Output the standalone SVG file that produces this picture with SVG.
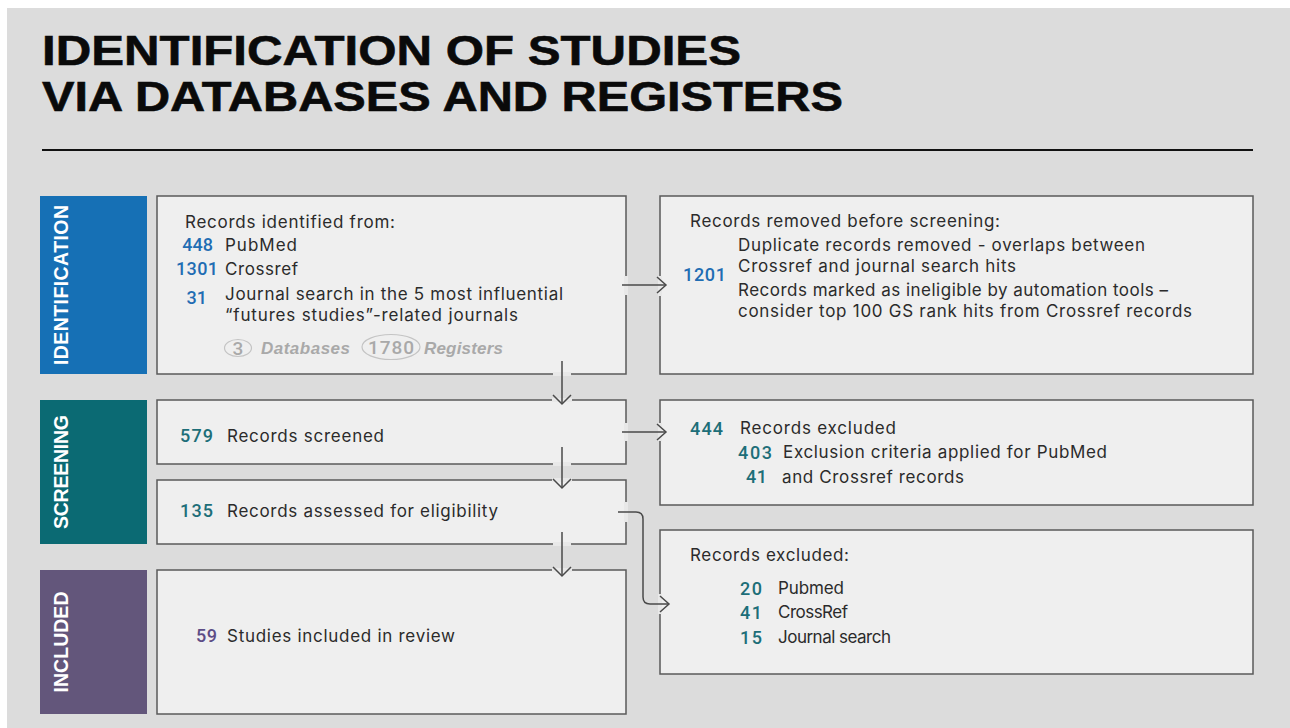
<svg xmlns="http://www.w3.org/2000/svg" width="1290" height="728" viewBox="0 0 1290 728">
  <style>
    .title { font-family: "Liberation Sans", Arial, sans-serif; font-weight: bold; font-size: 43px; fill: #0a0a0a; stroke: #0a0a0a; stroke-width: 0.6px; }
    .phase { font-family: "Liberation Sans", Arial, sans-serif; font-weight: bold; font-size: 19.5px; fill: #ffffff; text-anchor: middle; }
    .box { fill: #efefef; stroke: #5a5a5a; stroke-width: 1.5; }
    .t { font-family: Inter, "Liberation Sans", sans-serif; font-size: 17px; fill: #2b2b2b; }
    .n { font-family: Roboto, "Liberation Sans", sans-serif; font-weight: 500; font-size: 18px; }
    .nb { fill: #1f6db3; }
    .ng { fill: #1d6e78; }
    .np { fill: #5d4d86; }
    .muted { font-family: "Liberation Sans", Arial, sans-serif; font-style: italic; font-weight: bold; font-size: 17px; fill: #a9a9a9; }
    .mutedn { font-family: Roboto, "Liberation Sans", sans-serif; font-weight: 500; font-size: 19px; fill: #a9a9a9; }
    .pill { fill: none; stroke: #c4c4c4; stroke-width: 1.2; }
    .conn { fill: none; stroke: #4a4a4a; stroke-width: 1.5; }
    .gap { fill: #e8e8e8; stroke: none; }
  </style>

  <rect x="0" y="0" width="1290" height="728" fill="#ffffff"/>
  <rect x="7" y="8" width="1283" height="720" fill="#dcdcdc"/>

  <g id="title">
    <text class="title" x="42" y="65" textLength="699" lengthAdjust="spacingAndGlyphs">IDENTIFICATION OF STUDIES</text>
    <text class="title" x="42" y="111" textLength="801" lengthAdjust="spacingAndGlyphs">VIA DATABASES AND REGISTERS</text>
    <line x1="42" y1="150" x2="1253" y2="150" stroke="#111111" stroke-width="2"/>
  </g>

  <g id="phase-identification">
    <rect x="40" y="196" width="107" height="178" fill="#1670b5"/>
    <text class="phase" transform="translate(68,285) rotate(-90)" x="0" y="0" textLength="160">IDENTIFICATION</text>
  </g>
  <g id="phase-screening">
    <rect x="40" y="400" width="107" height="144" fill="#0b6a73"/>
    <text class="phase" transform="translate(68,472) rotate(-90)" x="0" y="0" textLength="114">SCREENING</text>
  </g>
  <g id="phase-included">
    <rect x="40" y="570" width="107" height="144" fill="#63567b"/>
    <text class="phase" transform="translate(68,642) rotate(-90)" x="0" y="0" textLength="101">INCLUDED</text>
  </g>

  <g id="node-identified">
    <rect class="box" x="157" y="196" width="469" height="178"/>
    <text class="t" x="185" y="228" textLength="210">Records identified from:</text>
    <text class="n nb" x="213" y="251" text-anchor="end">448</text>
    <text class="t" x="225" y="251" textLength="72">PubMed</text>
    <text class="n nb" x="218" y="275" text-anchor="end" textLength="42">1301</text>
    <text class="t" x="225" y="275" textLength="73">Crossref</text>
    <text class="n nb" x="207" y="304" text-anchor="end">31</text>
    <text class="t" x="225" y="300" textLength="338">Journal search in the 5 most influential</text>
    <text class="t" x="225" y="321" textLength="293">“futures studies”-related journals</text>
    <ellipse class="pill" cx="238" cy="348" rx="13.5" ry="8.5"/>
    <text class="mutedn" x="238" y="355" text-anchor="middle">3</text>
    <text class="muted" x="261" y="354" textLength="89">Databases</text>
    <ellipse class="pill" cx="391" cy="347" rx="29" ry="12.5"/>
    <text class="mutedn" x="391" y="354" text-anchor="middle" textLength="46">1780</text>
    <text class="muted" x="424" y="354" textLength="79">Registers</text>
  </g>

  <g id="node-removed">
    <rect class="box" x="660" y="196" width="593" height="178"/>
    <text class="t" x="690" y="227" textLength="310">Records removed before screening:</text>
    <text class="n nb" x="683" y="281" textLength="43">1201</text>
    <text class="t" x="738" y="251" textLength="407">Duplicate records removed - overlaps between</text>
    <text class="t" x="738" y="272" textLength="278">Crossref and journal search hits</text>
    <text class="t" x="738" y="296" textLength="430">Records marked as ineligible by automation tools –</text>
    <text class="t" x="738" y="317" textLength="454">consider top 100 GS rank hits from Crossref records</text>
  </g>

  <g id="node-screened">
    <rect class="box" x="157" y="400" width="469" height="64"/>
    <text class="n ng" x="180" y="442" textLength="33">579</text>
    <text class="t" x="227" y="442" textLength="157">Records screened</text>
  </g>

  <g id="node-assessed">
    <rect class="box" x="157" y="480" width="469" height="64"/>
    <text class="n ng" x="180" y="517" textLength="33">135</text>
    <text class="t" x="227" y="517" textLength="271">Records assessed for eligibility</text>
  </g>

  <g id="node-included">
    <rect class="box" x="157" y="570" width="469" height="144"/>
    <text class="n np" x="196" y="642" textLength="21">59</text>
    <text class="t" x="227" y="642" textLength="228">Studies included in review</text>
  </g>

  <g id="node-excluded-screening">
    <rect class="box" x="660" y="400" width="593" height="105"/>
    <text class="n ng" x="690" y="435" textLength="33">444</text>
    <text class="t" x="740" y="434" textLength="156">Records excluded</text>
    <text class="n ng" x="738" y="459" textLength="34">403</text>
    <text class="t" x="783" y="458" textLength="324">Exclusion criteria applied for PubMed</text>
    <text class="n ng" x="746" y="483" textLength="21">41</text>
    <text class="t" x="782" y="483" textLength="182">and Crossref records</text>
  </g>

  <g id="node-excluded-eligibility">
    <rect class="box" x="660" y="530" width="593" height="144"/>
    <text class="t" x="690" y="561" textLength="159">Records excluded:</text>
    <text class="n ng" x="740" y="595" textLength="22">20</text>
    <text class="t" x="778" y="594" textLength="66">Pubmed</text>
    <text class="n ng" x="740" y="619" textLength="22">41</text>
    <text class="t" x="778" y="618" textLength="70">CrossRef</text>
    <text class="n ng" x="740" y="644" textLength="22">15</text>
    <text class="t" x="778" y="643" textLength="113">Journal search</text>
  </g>

  <g id="connectors">
    <rect class="gap" x="624" y="276" width="4" height="19"/>
    <rect class="gap" x="658" y="276" width="4" height="20"/>
    <rect class="gap" x="553" y="372" width="18" height="4"/>
    <rect class="gap" x="552" y="398" width="20" height="4"/>
    <rect class="gap" x="624" y="423" width="4" height="18"/>
    <rect class="gap" x="658" y="423" width="4" height="18"/>
    <rect class="gap" x="553" y="462" width="18" height="4"/>
    <rect class="gap" x="552" y="478" width="20" height="4"/>
    <rect class="gap" x="553" y="542" width="18" height="4"/>
    <rect class="gap" x="552" y="568" width="20" height="4"/>
    <rect class="gap" x="624" y="502" width="4" height="20"/>
    <rect class="gap" x="658" y="594" width="4" height="20"/>

    <path class="conn" d="M622 285 H665"/>
    <path class="conn" d="M657 277 L666 285 L657 293"/>
    <path class="conn" d="M562 361 V403"/>
    <path class="conn" d="M553 395 L562 404 L571 395"/>
    <path class="conn" d="M622 432 H665"/>
    <path class="conn" d="M657 424 L666 432 L657 440"/>
    <path class="conn" d="M562 447 V487"/>
    <path class="conn" d="M553 479 L562 488 L571 479"/>
    <path class="conn" d="M562 532 V575"/>
    <path class="conn" d="M553 567 L562 576 L571 567"/>
    <path class="conn" d="M618 512 H636 Q643 512 643 519 V597 Q643 604 650 604 H668"/>
    <path class="conn" d="M660 596 L669 604 L660 612"/>
  </g>
</svg>
